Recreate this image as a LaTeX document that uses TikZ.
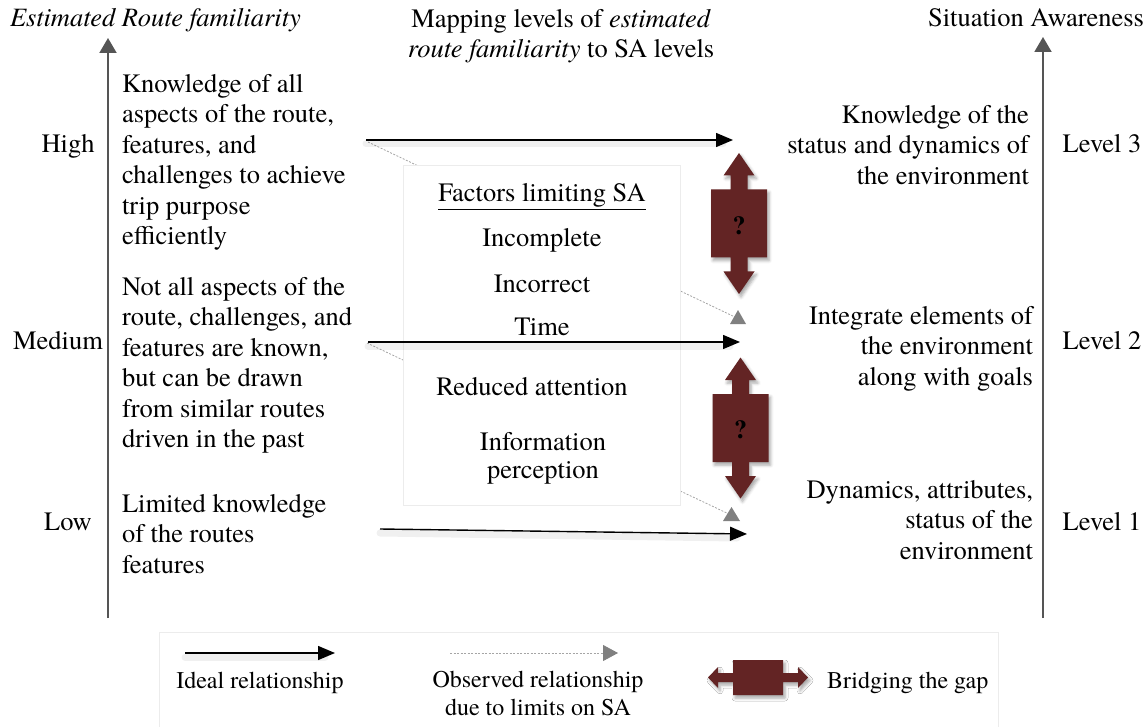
\documentclass[tikz,border=0pt]{standalone}
\usepackage{fontspec}
\setmainfont{texgyretermes}[Extension=.otf, UprightFont=*-regular,
  BoldFont=*-bold, ItalicFont=*-italic, BoldItalicFont=*-bolditalic]
\usetikzlibrary{arrows.meta,shadows.blur}

\definecolor{gapred}{RGB}{99,36,36}
\definecolor{axisgray}{RGB}{85,85,85}
\definecolor{obsgray}{RGB}{165,165,165}
\definecolor{tipgray}{RGB}{128,128,128}
\definecolor{boxline}{RGB}{236,236,236}

% double-headed "bridging" arrow, vertical, centred at the current origin
\newcommand{\gapshapeV}{%
  (0,-70.5) -- (15.5,-48) -- (8.5,-48) -- (8.5,-34) -- (28,-34) -- (28,34)
  -- (8.5,34) -- (8.5,48) -- (15.5,48) -- (0,70.5) -- (-15.5,48) -- (-8.5,48)
  -- (-8.5,34) -- (-28,34) -- (-28,-34) -- (-8.5,-34) -- (-8.5,-48)
  -- (-15.5,-48) -- cycle}
% the same kind of arrow, horizontal and smaller, for the key
\newcommand{\gapshapeH}{%
  (-50,0) -- (-40,-10.5) -- (-40,-4.5) -- (-25,-4.5) -- (-25,-17.5) -- (25,-17.5)
  -- (25,-4.5) -- (40,-4.5) -- (40,-10.5) -- (50,0) -- (40,10.5) -- (40,4.5)
  -- (25,4.5) -- (25,17.5) -- (-25,17.5) -- (-25,4.5) -- (-40,4.5)
  -- (-40,10.5) -- cycle}

\begin{document}
\begin{tikzpicture}[x=1pt,y=-1pt,
  txt/.style={font=\fontsize{26.5}{30.5}\selectfont, inner sep=0pt, outer sep=0pt},
  keytxt/.style={font=\fontsize{24}{27.2}\selectfont, inner sep=0pt, outer sep=0pt},
  axisline/.style={draw=axisgray, line width=2pt, -{Triangle[length=15pt,width=17pt]}},
  ideal/.style={draw=black, line width=1.4pt, -{Triangle[length=17pt,width=14pt]}},
  idealshade/.style={draw=black, opacity=0.06, line width=7pt, line cap=round},
  observed/.style={draw=obsgray, line width=0.8pt, dash pattern=on 2pt off 1.5pt},
  obstip/.style={fill=tipgray},
  gapfill/.style={fill=gapred, blur shadow={shadow xshift=2pt, shadow yshift=-3pt,
      shadow opacity=35, shadow blur radius=3pt}},
  qmark/.style={font=\bfseries\fontsize{26}{26}\selectfont, inner sep=0pt}
]
\useasboundingbox (0,0) rectangle (1148,727);

% ---------- headings ----------
\node[txt, anchor=base west, font=\itshape\fontsize{26.5}{30.5}\selectfont]
  (hdrFam) at (10,27) {Estimated Route familiarity};
\node[txt, anchor=north, align=center] (hdrMap) at (561,9)
  {Mapping levels of \textit{estimated}\\\textit{route familiarity} to SA levels};
\node[txt, anchor=base east] (hdrSA) at (1144,27) {Situation Awareness};

% ---------- axes ----------
\coordinate (famAxisBot) at (108,618);
\coordinate (famAxisTop) at (108,38);
\coordinate (saAxisBot) at (1043,618);
\coordinate (saAxisTop) at (1043,37);
\draw[axisline] (famAxisBot) -- (famAxisTop);
\draw[axisline] (saAxisBot) -- (saAxisTop);

% ---------- level names ----------
\node[txt, anchor=base] (famHigh) at (68,153) {High};
\node[txt, anchor=base] (famMed)  at (58,349) {Medium};
\node[txt, anchor=base] (famLow)  at (68,530) {Low};
\node[txt, anchor=base] (saL3) at (1102,153) {Level 3};
\node[txt, anchor=base] (saL2) at (1102,349) {Level 2};
\node[txt, anchor=base] (saL1) at (1102,530) {Level 1};

% ---------- observed relationships (run behind the factors box) ----------
\coordinate (obsHighStart) at (368,142);
\coordinate (obsHighEnd)   at (737,318);
\coordinate (obsMedStart)  at (367,343);
\coordinate (obsMedEnd)    at (731,515);
\draw[observed] (obsHighStart) -- (obsHighEnd);
\draw[observed] (obsMedStart) -- (obsMedEnd);
\fill[obstip] (730,324) -- (738,310) -- (746,324) -- cycle;
\fill[obstip] (723,521) -- (731.5,507) -- (740,521) -- cycle;

% ---------- factors limiting SA ----------
\node[draw=boxline, fill=white, minimum width=277pt, minimum height=340pt,
  inner sep=0pt] (limits) at (541.5,335) {};
\node[txt, anchor=base] (limTitle) at (542,202) {\underline{Factors limiting SA}};
\node[txt, anchor=base] (limA) at (542,247) {Incomplete};
\node[txt, anchor=base] (limB) at (542,292) {Incorrect};
\node[txt, anchor=base] (limC) at (542,335) {Time};
\node[txt, anchor=base] (limD) at (532,395) {Reduced attention};
\node[txt, anchor=base] (limE) at (543,450) {Information};
\node[txt, anchor=base] (limF) at (543,478) {perception};

% ---------- route familiarity descriptions ----------
\node[txt, anchor=north west, align=left] (descHigh) at (122,74)
  {Knowledge of all\\aspects of the route,\\features, and\\challenges to achieve\\trip purpose\\efficiently};
\node[txt, anchor=north west, align=left] (descMed) at (122,277)
  {Not all aspects of the\\route, challenges, and\\features are known,\\but can be drawn\\from similar routes\\driven in the past};
\node[txt, anchor=north west, align=left] (descLow) at (122,494)
  {Limited knowledge\\of the routes\\features};

% ---------- SA level descriptions ----------
\node[txt, anchor=north east, align=right] (saDesc3) at (1029,105)
  {Knowledge of the\\status and dynamics of\\the environment};
\node[txt, anchor=north east, align=right] (saDesc2) at (1033,306)
  {Integrate elements of\\the environment\\along with goals};
\node[txt, anchor=north east, align=right] (saDesc1) at (1033,480)
  {Dynamics, attributes,\\status of the\\environment};

% ---------- ideal relationships ----------
\coordinate (idHighStart) at (366,140);
\coordinate (idHighEnd)   at (733,140);
\coordinate (idMedStart)  at (368,342);
\coordinate (idMedEnd)    at (740,342);
\coordinate (idLowStart)  at (380,529);
\coordinate (idLowEnd)    at (747,534);
\draw[idealshade] ([yshift=-4pt]idHighStart) -- ([yshift=-4pt,xshift=-10pt]idHighEnd);
\draw[idealshade] ([yshift=-4pt]idMedStart) -- ([yshift=-4pt,xshift=-10pt]idMedEnd);
\draw[idealshade] ([yshift=-4pt]idLowStart) -- ([yshift=-4pt,xshift=-10pt]idLowEnd);
\draw[ideal] (idHighStart) -- (idHighEnd);
\draw[ideal] (idMedStart) -- (idMedEnd);
\draw[ideal] (idLowStart) -- (idLowEnd);

% ---------- bridging the gap ----------
\begin{scope}[shift={(739,223.5)}]
  \fill[gapfill] \gapshapeV;
  \node[qmark] (gapUpper) at (0,2) {?};
\end{scope}
\begin{scope}[shift={(740.5,428)}]
  \fill[gapfill] \gapshapeV;
  \node[qmark] (gapLower) at (0,2) {?};
\end{scope}

% ---------- key ----------
\node[draw=boxline, fill=white, anchor=north west, minimum width=839pt,
  minimum height=110pt, inner sep=0pt] (key) at (159,632) {};
\coordinate (keyIdealA) at (185,653);
\coordinate (keyIdealB) at (335,653);
\draw[idealshade] ([yshift=-4pt]keyIdealA) -- ([yshift=-4pt,xshift=-10pt]keyIdealB);
\draw[ideal] (keyIdealA) -- (keyIdealB);
\node[keytxt, anchor=base] (keyIdeal) at (260,688) {Ideal relationship};

\coordinate (keyObsA) at (450,653);
\coordinate (keyObsB) at (618,653);
\draw[observed, -{Triangle[length=15pt,width=16pt,color=tipgray,fill=tipgray]}]
  (keyObsA) -- (keyObsB);
\node[keytxt, anchor=north, align=center] (keyObs) at (538,671.6)
  {Observed relationship\\due to limits on SA};

\begin{scope}[shift={(758,677.5)}]
  \fill[gapfill] \gapshapeH;
\end{scope}
\node[keytxt, anchor=base west] (keyGap) at (827,688) {Bridging the gap};
\end{tikzpicture}
\end{document}
